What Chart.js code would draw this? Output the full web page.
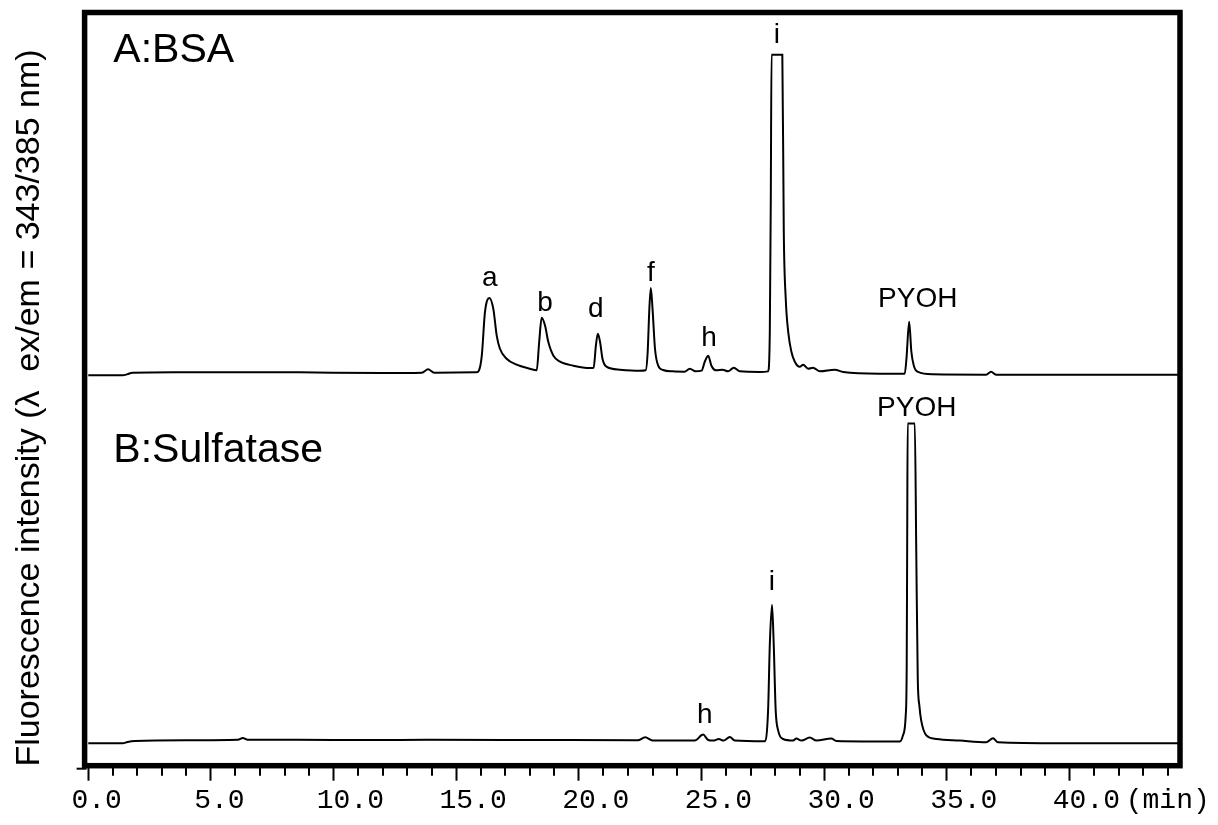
<!DOCTYPE html>
<html>
<head>
<meta charset="utf-8">
<script src="https://cdn.jsdelivr.net/npm/chart.js@4.4.1/dist/chart.umd.min.js"></script>
<style>
  html, body { margin: 0; padding: 0; background: #fff; }
</style>
</head>
<body>
<canvas id="mycanvas" width="1218" height="825"></canvas>
<script>
// retention time (min) and signal (a.u.), trace A (BSA)
var timeA = [
  0, 1.4, 1.6, 1.8, 3.5, 6.5, 8.6, 12.0, 13.6, 13.85, 14.1,
  15.8, 15.92, 16.04, 16.17, 16.35, 16.51, 16.65, 16.78, 17.05, 17.46, 18.0,
  18.28, 18.38, 18.48, 18.62, 18.75, 18.96, 19.23, 19.77, 20.45,
  20.6, 20.69, 20.77, 20.86, 20.96, 21.12, 21.67, 22.48,
  22.72, 22.8, 22.87, 22.93, 23.0, 23.1, 23.23, 23.43, 23.83,
  24.3, 24.52, 24.75, 25.0, 25.13, 25.27, 25.4, 25.6, 25.85, 26.08, 26.31, 26.56, 27.37,
  27.71, 27.78, 27.82, 27.85, 28.29, 28.35, 28.43, 28.53, 28.66, 28.8,
  29.0, 29.14, 29.34, 29.54, 29.82, 30.43, 30.77, 32.26,
  33.28, 33.35, 33.46, 33.55, 33.65, 33.82, 34.43, 36.6, 36.8, 37.0, 44.5
];
var signalA = [
  -2.7, -2.7, -1.5, 0, 0.5, 0.5, 0.3, -0.3, 0, 3.3, 0,
  0.3, 2, 17, 61, 75, 64, 37, 24, 14, 8, 4,
  2.5, 31, 55, 47, 31, 17, 11, 7, 4.7,
  5, 27, 39, 31, 14, 6, 3, 2,
  2.5, 20, 64, 85, 64, 24, 7, 2.7, 1.3,
  1, 4, 1.3, 2, 11, 17, 7, 2.3, 3, 1.3, 5, 1.3, 0.7,
  1.3, 41, 174, 319, 319, 141, 74, 41, 21, 11,
  6, 8, 4, 5, 1.3, 3, 0.7, -1,
  -1, 14, 51, 21, 7, 0.7, -1.7, -2, 0.8, -2, -2
];

// trace B (Sulfatase)
var timeB = [
  0, 1.4, 1.6, 1.9, 4.0, 6.1, 6.3, 6.5, 8.5, 11.5, 13.8, 18.0,
  22.4, 22.7, 23.0, 24.72, 25.06, 25.27, 25.47, 25.7, 25.9, 26.15, 26.35,
  27.57, 27.71, 27.78, 27.87, 27.94, 28.02, 28.12, 28.32,
  28.73, 28.86, 29.07, 29.41, 29.68, 30.29, 30.49, 33.08,
  33.21, 33.32, 33.36, 33.38, 33.40, 33.69, 33.75, 33.81, 33.88, 33.95, 34.16,
  34.57, 35.52, 36.6, 36.88, 37.08, 39.6, 44.5
];
var signalB = [
  -2, -2, -0.7, 0.3, 1, 1.5, 3.3, 1.5, 1.5, 1.3, 1.5, 1.3,
  1, 4, 0.7, 0.7, 6.7, 1.3, 0.7, 2.3, 0.7, 4.3, 0.7,
  0, 31, 97, 137, 97, 31, 11, 2.3,
  0.7, 2.7, 0.7, 3.7, 0.7, 2.7, 0.3, -0.3,
  6, 26, 75, 200, 319, 319, 190, 64, 35, 21, 6,
  2.3, 0.7, -1, 3, -1, -2, -2
];

// trace A is drawn stacked above trace B
var offsetA = 370;

// peak names and where their labels sit (min)
var peaksA = ['a', 'b', 'd', 'f', 'h', 'i', 'PYOH'];
var peakTimeA = [16.37, 18.62, 20.69, 22.93, 25.3, 28.07, 33.81];
var peaksB = ['h', 'i', 'PYOH'];
var peakTimeB = [25.13, 27.86, 33.77];

// x axis ticks
var majorTicks = [0, 5, 10, 15, 20, 25, 30, 35, 40];
var xTicks = [];
for (var m = 0; m <= 44; m++) xTicks.push(m);
var xUnit = '(min)';

// label gap above the peak top (px)
var gapA = [12, 7, 17, 7, 10, 12, 15];
var gapB = [12, 15, 8];

function points(t, s, off) {
  return t.map(function(v, i) { return {x: v, y: s[i] + off}; });
}

function apex(t, s, at) {
  var best = -Infinity;
  for (var i = 0; i < t.length; i++) {
    if (Math.abs(t[i] - at) < 0.45 && s[i] > best) best = s[i];
  }
  return best;
}

Chart.defaults.font.family = '"Liberation Sans", Arial, sans-serif';
Chart.defaults.color = '#000';

var overlay = {
  id: 'overlay',
  afterDraw: function(chart) {
    var ctx = chart.ctx, a = chart.chartArea;
    var x = chart.scales.x, y = chart.scales.y;
    ctx.save();
    ctx.strokeStyle = '#000';
    // minor ticks
    ctx.lineWidth = 2;
    xTicks.forEach(function(v) {
      if (majorTicks.indexOf(v) >= 0) return;
      var px = Math.round(x.getPixelForValue(v));
      ctx.beginPath();
      ctx.moveTo(px, a.bottom);
      ctx.lineTo(px, a.bottom + 10);
      ctx.stroke();
    });
    // small y tick at the bottom left
    ctx.beginPath();
    ctx.moveTo(a.left - 8, a.bottom + 3);
    ctx.lineTo(a.left + 2, a.bottom + 3);
    ctx.stroke();
    // frame
    ctx.lineWidth = 5.5;
    ctx.strokeRect(a.left, a.top, a.right - a.left, a.bottom - a.top);

    // peak labels
    ctx.fillStyle = '#000';
    ctx.textAlign = 'center';
    ctx.textBaseline = 'alphabetic';
    ctx.font = '28px "Liberation Sans", Arial, sans-serif';
    peaksA.forEach(function(p, i) {
      var top = apex(timeA, signalA, peakTimeA[i]) + offsetA + gapA[i];
      ctx.fillText(p, x.getPixelForValue(peakTimeA[i]), y.getPixelForValue(top));
    });
    peaksB.forEach(function(p, i) {
      var top = apex(timeB, signalB, peakTimeB[i]) + gapB[i];
      ctx.fillText(p, x.getPixelForValue(peakTimeB[i]), y.getPixelForValue(top));
    });

    // panel names
    ctx.textAlign = 'left';
    ctx.font = '41px "Liberation Sans", Arial, sans-serif';
    ctx.fillText('A:BSA', x.getPixelForValue(1.02), y.getPixelForValue(offsetA + 312));
    ctx.fillText('B:Sulfatase', x.getPixelForValue(1.02), y.getPixelForValue(280));
    ctx.restore();
  }
};

var ctx = document.getElementById('mycanvas');

var chromatogram = new Chart(ctx, {
  type: 'line',
  data: {
    datasets: [
      {
        label: 'A:BSA',
        data: points(timeA, signalA, offsetA),
        borderColor: '#000',
        borderWidth: 2,
        pointRadius: 0,
        cubicInterpolationMode: 'monotone',
        fill: false
      },
      {
        label: 'B:Sulfatase',
        data: points(timeB, signalB, 0),
        borderColor: '#000',
        borderWidth: 2,
        pointRadius: 0,
        cubicInterpolationMode: 'monotone',
        fill: false
      }
    ]
  },
  options: {
    responsive: false,
    animation: false,
    layout: { padding: { top: 12.5, right: 38, bottom: 4.7, left: 0 } },
    plugins: { legend: { display: false }, tooltip: { enabled: false } },
    scales: {
      x: {
        type: 'linear',
        min: -0.15,
        max: 44.5,
        afterBuildTicks: function(scale) {
          scale.ticks = xTicks.map(function(v) { return {value: v}; });
        },
        border: { display: false },
        grid: {
          drawOnChartArea: false,
          tickLength: 15,
          tickWidth: 2,
          tickColor: function(c) {
            return majorTicks.indexOf(c.tick.value) >= 0 ? '#000' : 'rgba(0,0,0,0)';
          }
        },
        ticks: {
          autoSkip: false,
          maxRotation: 0,
          padding: 3,
          color: '#000',
          font: { family: '"Liberation Mono", monospace', size: 28 },
          callback: function(v) {
            if (v === 44) return xUnit;
            if (majorTicks.indexOf(v) < 0) return '';
            var s = v.toFixed(1);
            return (s.length > 3 ? '  ' : ' ') + s;
          }
        }
      },
      y: {
        min: -24.5,
        max: 731.5,
        border: { display: false },
        grid: { display: false, drawTicks: false },
        ticks: { display: false },
        title: {
          display: true,
          text: 'Fluorescence intensity (\u03bb  ex/em = 343/385 nm)    ',
          color: '#000',
          font: { size: 34 },
          padding: { top: 9, bottom: 34.8 }
        }
      }
    }
  },
  plugins: [overlay]
});
</script>
</body>
</html>
